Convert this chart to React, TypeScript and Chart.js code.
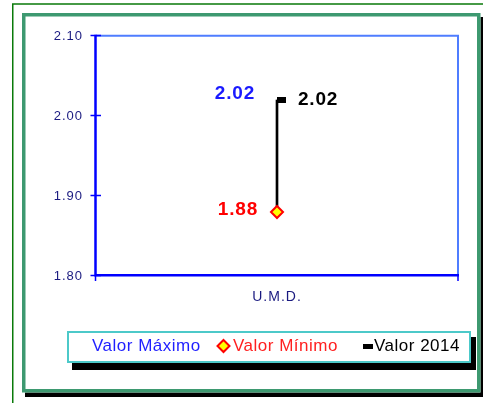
import React, { useEffect, useRef } from "react";
import { Chart, registerables } from "chart.js";

Chart.register(...registerables);

// ---- data ----
const categories: string[] = ["U.M.D."];
const valorMaximo: number[] = [2.02];
const valorMinimo: number[] = [1.88];
const valor2014: number[] = [2.02];
const seriesNames: string[] = ["Valor Máximo", "Valor Mínimo", "Valor 2014"];
const yMin = 1.8;
const yMax = 2.1;
const yStep = 0.1;

const FONT = '"Liberation Sans", Arial, Helvetica, sans-serif';
const W = 483;
const H = 403;

function makeDashMarker(): HTMLCanvasElement {
  const c = document.createElement("canvas");
  c.width = 18;
  c.height = 6;
  const g = c.getContext("2d")!;
  g.fillStyle = "#000";
  g.fillRect(9, 0, 9, 6);
  return c;
}

const framePlugin = {
  id: "frames",
  beforeDraw(chart: any) {
    const ctx = chart.ctx as CanvasRenderingContext2D;
    ctx.save();
    ctx.fillStyle = "#ffffff";
    ctx.fillRect(0, 0, W, H);
    // outer dark green lines
    ctx.strokeStyle = "#0a7a0a";
    ctx.lineWidth = 1.5;
    ctx.beginPath();
    ctx.moveTo(12.75, H);
    ctx.lineTo(12.75, 4);
    ctx.lineTo(W, 4);
    ctx.stroke();
    // shadow of inner frame
    ctx.fillStyle = "#000";
    ctx.fillRect(25, 17, W - 25, 380);
    // inner frame
    ctx.fillStyle = "#fff";
    ctx.fillRect(22, 13, 458.5, 379.5);
    ctx.strokeStyle = "#3d9970";
    ctx.lineWidth = 3.5;
    ctx.strokeRect(23.75, 14.75, 455, 376);
    ctx.restore();
    // wider spacing for axis labels (reset before datasets are drawn)
    (ctx as any).letterSpacing = "1px";
  },
  beforeDatasetsDraw(chart: any) {
    const ctx = chart.ctx as CanvasRenderingContext2D;
    (ctx as any).letterSpacing = "0px";
    const { left, right, top, bottom } = chart.chartArea;
    ctx.save();
    ctx.lineCap = "butt";
    // top & right borders
    ctx.strokeStyle = "#4f7dff";
    ctx.lineWidth = 2;
    ctx.beginPath();
    ctx.moveTo(left, top - 0.3);
    ctx.lineTo(right, top - 0.3);
    ctx.moveTo(right, top - 1.3);
    ctx.lineTo(right, bottom);
    ctx.stroke();
    // left & bottom axes
    ctx.strokeStyle = "#0000ff";
    ctx.lineWidth = 2.5;
    ctx.beginPath();
    ctx.moveTo(left - 0.5, top - 1.3);
    ctx.lineTo(left - 0.5, bottom + 0.5);
    ctx.moveTo(left - 1.5, bottom - 0.7);
    ctx.lineTo(right + 1, bottom - 0.7);
    ctx.stroke();
    // tick marks
    ctx.lineWidth = 1.5;
    const ys = chart.scales.y;
    ys.ticks.forEach((t: any) => {
      const y = Math.round(ys.getPixelForValue(t.value)) - 0.5;
      ctx.beginPath();
      ctx.moveTo(left - 5.5, y);
      ctx.lineTo(left + 5, y);
      ctx.stroke();
    });
    [left - 0.5, right].forEach((x) => {
      ctx.beginPath();
      ctx.moveTo(x, bottom - 1);
      ctx.lineTo(x, bottom + 5);
      ctx.stroke();
    });
    ctx.restore();
  },
  afterDatasetsDraw(chart: any) {
    const ctx = chart.ctx as CanvasRenderingContext2D;
    chart.data.datasets.forEach((ds: any, di: number) => {
      const lab = ds.valueLabel;
      if (!lab) return;
      const meta = chart.getDatasetMeta(di);
      meta.data.forEach((el: any, i: number) => {
        const v = ds.data[i];
        ctx.save();
        ctx.font = `bold 19px ${FONT}`;
        (ctx as any).letterSpacing = "0.8px";
        ctx.fillStyle = lab.color;
        ctx.textAlign = lab.align;
        ctx.textBaseline = "middle";
        ctx.fillText(Number(v).toFixed(2), el.x + lab.dx, el.y + lab.dy);
        ctx.restore();
      });
    });
  },
  afterDraw(chart: any) {
    const ctx = chart.ctx as CanvasRenderingContext2D;
    ctx.save();
    // legend box shadow
    ctx.fillStyle = "#000";
    ctx.fillRect(72, 337, 404, 33);
    // legend box
    ctx.fillStyle = "#fff";
    ctx.fillRect(67, 331, 404, 32);
    ctx.strokeStyle = "#4cc9c9";
    ctx.lineWidth = 2;
    ctx.strokeRect(68, 332, 402, 30);
    const cy = 346;
    const textStarts = [92, 233, 374];
    const items = chart.data.datasets.filter((d: any) => d.legendMarker);
    items.forEach((ds: any, i: number) => {
      const tx = textStarts[i];
      if (ds.legendMarker === "diamond") {
        const cx = tx - 9.5;
        const r = 6;
        ctx.beginPath();
        ctx.moveTo(cx, cy - r);
        ctx.lineTo(cx + r, cy);
        ctx.lineTo(cx, cy + r);
        ctx.lineTo(cx - r, cy);
        ctx.closePath();
        ctx.fillStyle = "#ffff00";
        ctx.fill();
        ctx.strokeStyle = "#ff0000";
        ctx.lineWidth = 2;
        ctx.stroke();
      } else if (ds.legendMarker === "dash") {
        ctx.fillStyle = "#000";
        ctx.fillRect(tx - 11, cy - 2, 10, 5);
      }
      ctx.font = `17px ${FONT}`;
      (ctx as any).letterSpacing = "0.5px";
      ctx.fillStyle = ds.legendColor;
      ctx.textAlign = "left";
      ctx.textBaseline = "middle";
      ctx.fillText(ds.label, tx, cy + 0.5);
    });
    ctx.restore();
  },
};

export default function App() {
  const ref = useRef<HTMLCanvasElement | null>(null);

  useEffect(() => {
    if (!ref.current) return;
    const hiLo = categories.map((_, i) => [valorMinimo[i], valorMaximo[i]]);
    const chart = new Chart(ref.current, {
      type: "bar",
      data: {
        labels: categories,
        datasets: [
          {
            type: "bar",
            label: "hi-lo",
            data: hiLo as any,
            backgroundColor: "#000000",
            borderWidth: 0,
            barThickness: 2,
            order: 4,
          } as any,
          {
            type: "line",
            label: seriesNames[0],
            data: valorMaximo,
            showLine: false,
            pointRadius: 0,
            legendMarker: "none",
            legendColor: "#1f1fff",
            valueLabel: { color: "#1a1aff", align: "right", dx: -22, dy: -6 },
            order: 3,
          } as any,
          {
            type: "line",
            label: seriesNames[1],
            data: valorMinimo,
            showLine: false,
            pointStyle: "rectRot",
            pointRadius: 6,
            pointBackgroundColor: "#ffff00",
            pointBorderColor: "#ff0000",
            pointBorderWidth: 2,
            legendMarker: "diamond",
            legendColor: "#ff2020",
            valueLabel: { color: "#ff0000", align: "right", dx: -19, dy: -2 },
            order: 1,
          } as any,
          {
            type: "line",
            label: seriesNames[2],
            data: valor2014,
            showLine: false,
            pointStyle: makeDashMarker(),
            pointRadius: 6,
            legendMarker: "dash",
            legendColor: "#000000",
            valueLabel: { color: "#000000", align: "left", dx: 21, dy: 0 },
            order: 2,
          } as any,
        ],
      },
      options: {
        responsive: false,
        animation: false,
        devicePixelRatio: 1,
        layout: { padding: { left: 0, top: 36, right: 25, bottom: 97 } },
        plugins: {
          legend: { display: false },
          tooltip: { enabled: false },
        },
        scales: {
          x: {
            type: "category",
            offset: true,
            grid: { display: false, drawTicks: false },
            border: { display: false },
            ticks: {
              color: "#1a1a80",
              font: { family: FONT, size: 14 },
              padding: 13,
            },
            afterFit: (s: any) => {
              s.height = 30;
            },
          },
          y: {
            type: "linear",
            min: yMin,
            max: yMax,
            grid: { display: false, drawTicks: false },
            border: { display: false },
            ticks: {
              stepSize: yStep,
              color: "#1a1a80",
              font: { family: FONT, size: 13 },
              padding: 13,
              callback: (v: any) => Number(v).toFixed(2),
            },
            afterFit: (s: any) => {
              s.width = 96;
            },
          },
        },
      },
      plugins: [framePlugin],
    });
    return () => chart.destroy();
  }, []);

  return (
    <div style={{ position: "fixed", left: 0, top: 0, width: W, height: H, background: "#fff" }}>
      <canvas ref={ref} width={W} height={H} style={{ display: "block", width: W, height: H }} />
    </div>
  );
}
